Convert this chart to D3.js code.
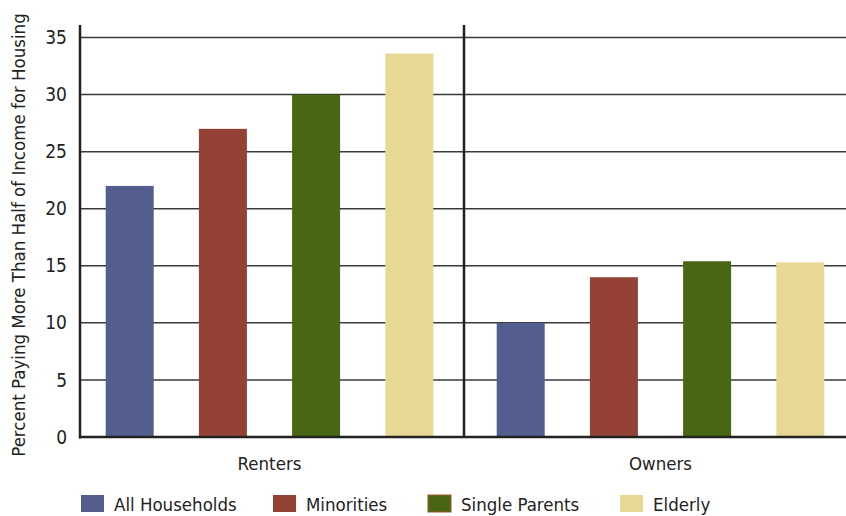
<!DOCTYPE html>
<html>
<head>
<meta charset="utf-8">
<script src="https://cdn.jsdelivr.net/npm/d3@7"></script>
<style>
  html, body { margin: 0; padding: 0; background: #fff; }
  svg { display: block; }
  text { font-family: "DejaVu Sans Condensed", "Liberation Sans Narrow", "Open Sans", sans-serif; fill: #222; }
</style>
</head>
<body>
<svg id="chart" width="846" height="516"></svg>
<script>
// Share of households paying more than half of income for housing
const groups = ["Renters", "Owners"];
const series = ["All Households", "Minorities", "Single Parents", "Elderly"];
const renterValues = [22, 27, 30, 33.6];
const ownerValues = [10, 14, 15.4, 15.3];
const seriesColors = ["#535e8e", "#944236", "#486613", "#e8d896"];
const yTicks = [0, 5, 10, 15, 20, 25, 30, 35];
const yTitle = "Percent Paying More Than Half of Income for Housing";

const valuesByGroup = { Renters: renterValues, Owners: ownerValues };
const fontStack = "\"DejaVu Sans Condensed\", \"Liberation Sans Narrow\", sans-serif";

const svg = d3.select("#chart");
const plotLeft = 80, plotRight = 846, plotTop = 25, plotBottom = 437;

const y = d3.scaleLinear().domain([0, 36.1]).range([plotBottom, plotTop]);
const x0 = d3.scaleBand().domain(groups).range([74, 856]);
const x1 = d3.scaleBand().domain(series).range([0, x0.bandwidth()])
  .paddingInner(0.485).paddingOuter(0.34);

// horizontal gridlines
svg.append("g").selectAll("line")
  .data(yTicks.filter(d => d > 0))
  .join("line")
  .attr("x1", plotLeft).attr("x2", plotRight)
  .attr("y1", d => y(d)).attr("y2", d => y(d))
  .attr("stroke", "#3a3a3a").attr("stroke-width", 1.5);

// bars
const gGroups = svg.append("g").selectAll("g")
  .data(groups)
  .join("g")
  .attr("transform", g => `translate(${x0(g)},0)`);

gGroups.selectAll("rect")
  .data(g => series.map((s, i) => ({ s, i, v: valuesByGroup[g][i] })))
  .join("rect")
  .attr("x", d => x1(d.s))
  .attr("width", x1.bandwidth())
  .attr("y", d => y(d.v))
  .attr("height", d => y(0) - y(d.v))
  .attr("fill", d => seriesColors[d.i]);

// y axis with tick labels
const yAxis = d3.axisLeft(y).tickValues(yTicks).tickSize(0).tickPadding(13);
const ay = svg.append("g").attr("transform", `translate(${plotLeft},0)`).call(yAxis);
ay.select(".domain").remove();
ay.selectAll("text").style("font-size", "19px").attr("fill", "#222")
  .style("font-family", fontStack);

// axis frame: left axis, baseline, group divider
svg.append("line").attr("x1", plotLeft).attr("x2", plotLeft)
  .attr("y1", plotTop).attr("y2", plotBottom + 1.5)
  .attr("stroke", "#222").attr("stroke-width", 2.5);
svg.append("line").attr("x1", plotLeft - 1).attr("x2", plotRight)
  .attr("y1", plotBottom).attr("y2", plotBottom)
  .attr("stroke", "#222").attr("stroke-width", 2.5);
svg.append("line").attr("x1", x0("Owners") - 1).attr("x2", x0("Owners") - 1)
  .attr("y1", plotTop).attr("y2", plotBottom)
  .attr("stroke", "#222").attr("stroke-width", 2.5);

// group labels
const xAxis = d3.axisBottom(x0).tickSize(0).tickPadding(20);
const ax = svg.append("g").attr("transform", `translate(0,${plotBottom})`).call(xAxis);
ax.select(".domain").remove();
ax.selectAll("text").style("font-size", "18.5px").attr("fill", "#222")
  .style("font-family", fontStack);

// y title
svg.append("text")
  .attr("transform", `translate(25,${(plotTop + plotBottom) / 2 + 4}) rotate(-90)`)
  .attr("text-anchor", "middle")
  .style("font-size", "18.5px")
  .text(yTitle);

// legend
const legendX = [81, 273, 428, 620];
const legend = svg.append("g").selectAll("g")
  .data(series)
  .join("g")
  .attr("transform", (d, i) => `translate(${legendX[i]},495)`);
legend.append("rect")
  .attr("width", 23).attr("height", 17)
  .attr("fill", (d, i) => seriesColors[i])
  .attr("stroke", (d, i) => i === 2 ? "#a0532f" : "none")
  .attr("stroke-width", 1);
legend.append("text")
  .attr("x", 33).attr("y", 16)
  .style("font-size", "18.5px")
  .text(d => d);
</script>
</body>
</html>
